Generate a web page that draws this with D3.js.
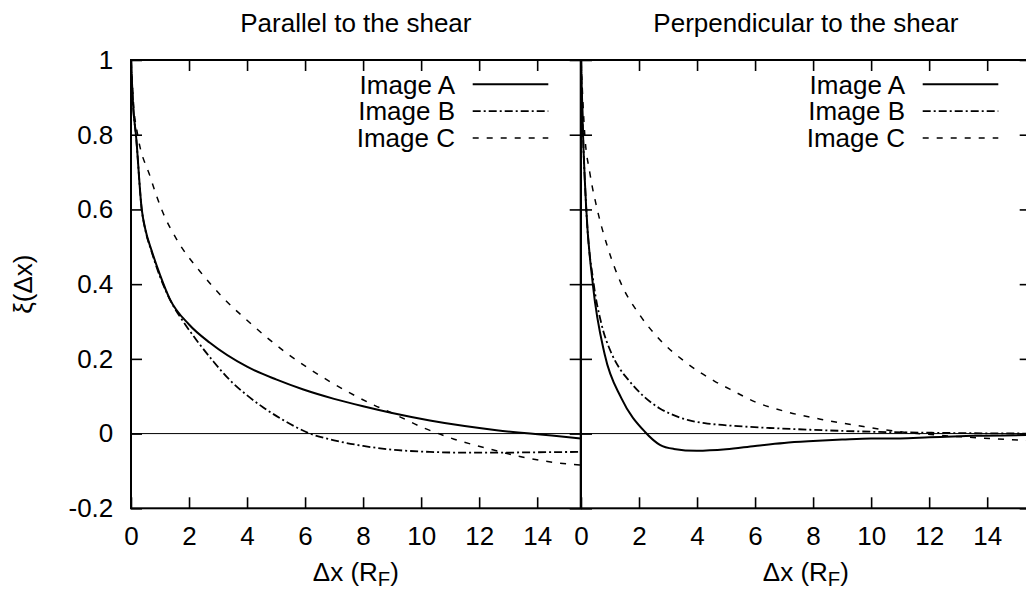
<!DOCTYPE html>
<html><head><meta charset="utf-8">
<script src="https://cdn.jsdelivr.net/npm/d3@7"></script>
<style>
body{margin:0;background:#fff}
svg{display:block}
text{font-family:"Liberation Sans",Arial,Helvetica,sans-serif;fill:#000}
</style>
</head><body>
<svg id="chart" width="1026" height="589"></svg>
<script>
// ---------- data ----------
const panelTitles = ["Parallel to the shear", "Perpendicular to the shear"];
const seriesNames = ["Image A", "Image B", "Image C"];
const xTickValues = [0, 2, 4, 6, 8, 10, 12, 14];
const yTickValues = [-0.2, 0, 0.2, 0.4, 0.6, 0.8, 1];
const xAxisLabel = "Δx (R";
const xAxisSub = "F";
const yAxisLabel = "ξ(Δx)";

// Parallel to the shear
const parA_x = [0, 0.08, 0.17, 0.37, 0.5, 0.71, 1.0, 1.34, 2.0, 2.72, 4.0, 5.0, 5.94, 7.0, 8.0, 9.0, 10.3, 11.5, 12.6, 13.76, 14.5, 15.5];
const parA_y = [1, 0.87, 0.80, 0.60, 0.545, 0.49, 0.425, 0.36, 0.292, 0.243, 0.179, 0.145, 0.118, 0.093, 0.073, 0.055, 0.035, 0.020, 0.009, 0.0, -0.005, -0.013];
const parB_x = [0, 0.08, 0.17, 0.37, 0.5, 0.71, 1.0, 1.4, 1.8, 2.26, 2.84, 3.41, 3.99, 4.56, 5.25, 6.17, 7.0, 8.0, 9.0, 10.3, 11.5, 12.6, 14.0, 15.5];
const parB_y = [1, 0.87, 0.80, 0.60, 0.543, 0.487, 0.42, 0.35, 0.30, 0.25, 0.193, 0.143, 0.103, 0.070, 0.036, 0.0, -0.018, -0.033, -0.043, -0.049, -0.051, -0.051, -0.050, -0.049];
const parC_x = [0, 0.1, 0.22, 0.66, 1.06, 1.58, 2.38, 3.18, 3.99, 5.37, 6.86, 8.41, 8.97, 9.48, 10.06, 10.6, 11.14, 11.71, 12.29, 13.44, 14.56, 15.5];
const parC_y = [1, 0.87, 0.804, 0.688, 0.599, 0.519, 0.434, 0.363, 0.304, 0.215, 0.139, 0.075, 0.056, 0.037, 0.016, 0.0, -0.015, -0.028, -0.040, -0.062, -0.077, -0.084];

// Perpendicular to the shear
const perA_x = [0, 0.07, 0.18, 0.41, 0.82, 1.39, 2.2, 2.72, 3.2, 3.99, 5.0, 6.0, 7.0, 8.0, 9.0, 10.0, 11.0, 12.0, 13.5, 15.5];
const perA_y = [1, 0.80, 0.603, 0.398, 0.211, 0.095, 0.005, -0.030, -0.041, -0.046, -0.042, -0.033, -0.025, -0.020, -0.016, -0.013, -0.013, -0.010, -0.006, -0.004];
const perB_x = [0, 0.07, 0.18, 0.44, 0.7, 1.05, 1.35, 1.62, 2.2, 2.7, 3.11, 3.7, 4.26, 5.41, 6.5, 8.0, 9.97, 12.27, 15.5];
const perB_y = [1, 0.80, 0.603, 0.40, 0.295, 0.215, 0.172, 0.145, 0.097, 0.068, 0.052, 0.036, 0.028, 0.020, 0.015, 0.010, 0.005, 0.002, 0.0];
const perC_x = [0, 0.13, 0.3, 0.56, 0.93, 1.39, 2.02, 2.71, 3.57, 4.61, 5.13, 6.0, 7.0, 8.36, 9.5, 10.66, 12.27, 13.4, 15.5];
const perC_y = [1, 0.80, 0.70, 0.60, 0.496, 0.40, 0.318, 0.252, 0.193, 0.140, 0.119, 0.085, 0.060, 0.037, 0.022, 0.008, -0.004, -0.010, -0.019];

const panelsData = [
  [[parA_x, parA_y], [parB_x, parB_y], [parC_x, parC_y]],
  [[perA_x, perA_y], [perB_x, perB_y], [perC_x, perC_y]]
];

// ---------- layout ----------
const FS = 26;
const plotTop = 60, plotBottom = 508.3;
const panelRanges = [[131, 580.7], [581, 1030.7]];
const seriesStyle = [
  {dash: null, w: 2},
  {dash: "8,3,2,3", w: 1.8},
  {dash: "6,8", w: 1.5}
];

const svg = d3.select("#chart");
const y = d3.scaleLinear().domain([-0.2, 1]).range([plotBottom, plotTop]);

panelRanges.forEach((rng, p) => {
  const x = d3.scaleLinear().domain([0, 15.5]).range(rng);
  const g = svg.append("g");
  const clipId = "clip" + p;
  svg.append("clipPath").attr("id", clipId).append("rect")
    .attr("x", rng[0]).attr("y", plotTop).attr("width", rng[1] - rng[0]).attr("height", plotBottom - plotTop);

  // zero line
  g.append("line").attr("x1", rng[0]).attr("x2", rng[1])
    .attr("y1", y(0)).attr("y2", y(0)).attr("stroke", "#000").attr("stroke-width", 1);

  // axes (ticks inside)
  const ax = g.append("g").attr("transform", `translate(0,${plotBottom})`)
    .call(d3.axisBottom(x).tickValues(xTickValues).tickSize(-11).tickPadding(18).tickFormat(d3.format("d")));
  const axT = g.append("g").attr("transform", `translate(0,${plotTop})`)
    .call(d3.axisTop(x).tickValues(xTickValues).tickSize(-11).tickFormat(""));
  const ayL = g.append("g").attr("transform", `translate(${rng[0]},0)`)
    .call(d3.axisLeft(y).tickValues(yTickValues).tickSize(-11).tickPadding(17.7)
      .tickFormat(p === 0 ? (d => String(+d.toFixed(1))) : ""));
  const ayR = g.append("g").attr("transform", `translate(${rng[1]},0)`)
    .call(d3.axisRight(y).tickValues(yTickValues).tickSize(-11).tickFormat(""));
  [ax, axT, ayL, ayR].forEach(a => {
    a.select(".domain").remove();
    a.selectAll(".tick line").attr("stroke", "#000").attr("stroke-width", 1.6);
    a.selectAll("text").attr("font-size", FS).attr("font-family", null).attr("fill", "#000");
  });

  // curves
  const line = d3.line().x(d => x(d[0])).y(d => y(d[1])).curve(d3.curveMonotoneX);
  const cg = g.append("g").attr("clip-path", `url(#${clipId})`);
  panelsData[p].forEach((s, i) => {
    const pts = s[0].map((v, k) => [v, s[1][k]]);
    cg.append("path").attr("d", line(pts)).attr("fill", "none")
      .attr("stroke", "#000").attr("stroke-width", seriesStyle[i].w)
      .attr("stroke-dasharray", seriesStyle[i].dash);
  });

  // border
  g.append("rect").attr("x", rng[0]).attr("y", plotTop)
    .attr("width", rng[1] - rng[0]).attr("height", plotBottom - plotTop)
    .attr("fill", "none").attr("stroke", "#000").attr("stroke-width", 2);

  // legend
  seriesNames.forEach((name, i) => {
    const ly = 84.3 + i * 26.8;
    g.append("text").attr("x", rng[1] - 125.7).attr("y", ly).attr("dy", "0.36em")
      .attr("text-anchor", "end").attr("font-size", FS).text(name);
    g.append("line").attr("x1", rng[1] - 108).attr("x2", rng[1] - 32.4)
      .attr("y1", ly).attr("y2", ly).attr("stroke", "#000")
      .attr("stroke-width", seriesStyle[i].w).attr("stroke-dasharray", seriesStyle[i].dash);
  });

  // title
  const cx = (rng[0] + rng[1]) / 2;
  g.append("text").attr("x", cx).attr("y", 32).attr("text-anchor", "middle")
    .attr("font-size", FS).text(panelTitles[p]);

  // x label
  const xl = g.append("text").attr("x", cx).attr("y", 581).attr("text-anchor", "middle")
    .attr("font-size", FS);
  xl.append("tspan").text(xAxisLabel);
  xl.append("tspan").attr("dy", 5).attr("font-size", FS * 0.78).text(xAxisSub);
  xl.append("tspan").attr("dy", -5).text(")");
});

// y label
svg.append("text").attr("transform", `translate(32,${(plotTop + plotBottom) / 2}) rotate(-90)`)
  .attr("text-anchor", "middle").attr("font-size", FS).text(yAxisLabel);
</script>
</body></html>
